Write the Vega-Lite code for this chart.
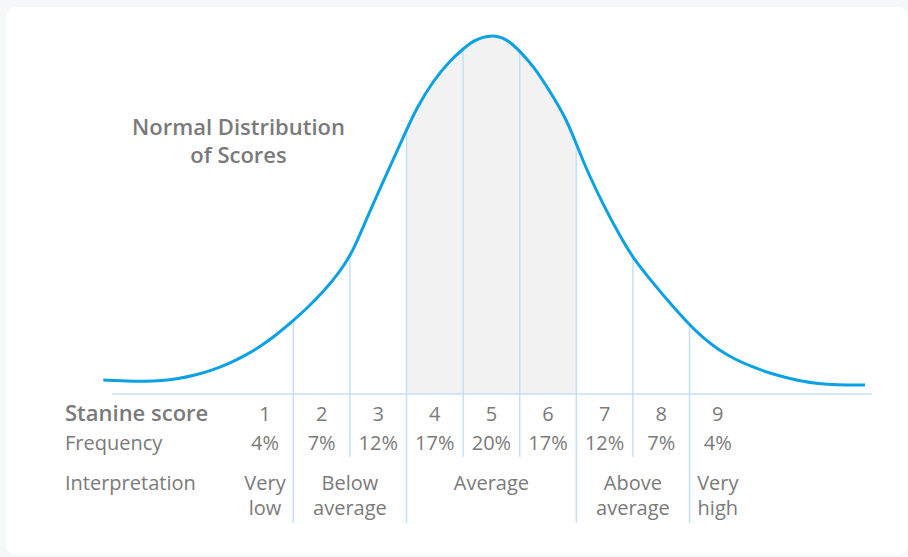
{
  "$schema": "https://vega.github.io/schema/vega-lite/v6.json",
  "width": 902,
  "height": 548,
  "autosize": "none",
  "padding": {"left": 6, "top": 7, "right": 0, "bottom": 2},
  "background": "#f4f8f9",
  "config": {
    "view": {"fill": "white", "stroke": null, "cornerRadius": 10},
    "text": {"font": "Open Sans", "color": "#7a7a7a", "fontSize": 20}
  },
  "datasets": {
    "curve": [
      {"s": -1.857, "v": 14}, {"s": -1.42, "v": 13}, {"s": -1.12, "v": 12.7}, {"s": -0.825, "v": 13.3},
      {"s": -0.537, "v": 15.3}, {"s": -0.237, "v": 18.7}, {"s": 0.058, "v": 23.7}, {"s": 0.352, "v": 30},
      {"s": 0.647, "v": 38.3}, {"s": 0.942, "v": 48.3}, {"s": 1.235, "v": 60.7}, {"s": 1.5, "v": 73.5},
      {"s": 1.737, "v": 85.5}, {"s": 2.03, "v": 102}, {"s": 2.325, "v": 122.3}, {"s": 2.5, "v": 138},
      {"s": 2.62, "v": 151.5}, {"s": 2.913, "v": 190.7}, {"s": 3.208, "v": 227.3}, {"s": 3.5, "v": 264},
      {"s": 3.68, "v": 286}, {"s": 3.973, "v": 313.5}, {"s": 4.269, "v": 333.5}, {"s": 4.5, "v": 345},
      {"s": 4.68, "v": 353.5}, {"s": 4.975, "v": 359.5}, {"s": 5.27, "v": 355.5}, {"s": 5.5, "v": 343},
      {"s": 5.74, "v": 328}, {"s": 6.035, "v": 302.7}, {"s": 6.33, "v": 274.3}, {"s": 6.5, "v": 250},
      {"s": 6.684, "v": 224}, {"s": 6.977, "v": 189}, {"s": 7.272, "v": 158}, {"s": 7.5, "v": 136},
      {"s": 7.86, "v": 110.7}, {"s": 8.155, "v": 90.7}, {"s": 8.5, "v": 69}, {"s": 8.716, "v": 57.3},
      {"s": 9.009, "v": 44}, {"s": 9.304, "v": 34.7}, {"s": 9.599, "v": 27.3}, {"s": 9.892, "v": 21.3},
      {"s": 10.187, "v": 16.7}, {"s": 10.482, "v": 12.7}, {"s": 10.776, "v": 10.3}, {"s": 11.071, "v": 9},
      {"s": 11.601, "v": 9}
    ],
    "bounds": [
      {"s": 1.5, "top": 74, "bot": -129}, {"s": 2.5, "top": 138, "bot": -63},
      {"s": 3.5, "top": 264, "bot": -129}, {"s": 4.5, "top": 343, "bot": -63},
      {"s": 5.5, "top": 342, "bot": -63}, {"s": 6.5, "top": 250, "bot": -129},
      {"s": 7.5, "top": 136, "bot": -63}, {"s": 8.5, "top": 69, "bot": -129}
    ],
    "stanines": [
      {"s": 1, "score": "1", "freq": "4%"}, {"s": 2, "score": "2", "freq": "7%"},
      {"s": 3, "score": "3", "freq": "12%"}, {"s": 4, "score": "4", "freq": "17%"},
      {"s": 5, "score": "5", "freq": "20%"}, {"s": 6, "score": "6", "freq": "17%"},
      {"s": 7, "score": "7", "freq": "12%"}, {"s": 8, "score": "8", "freq": "7%"},
      {"s": 9, "score": "9", "freq": "4%"}
    ],
    "interp": [
      {"s": 1, "v": -96, "t": "Very"}, {"s": 1, "v": -121, "t": "low"},
      {"s": 2.5, "v": -96, "t": "Below"}, {"s": 2.5, "v": -121, "t": "average"},
      {"s": 5, "v": -96, "t": "Average"},
      {"s": 7.5, "v": -96, "t": "Above"}, {"s": 7.5, "v": -121, "t": "average"},
      {"s": 9, "v": -96, "t": "Very"}, {"s": 9, "v": -121, "t": "high"}
    ]
  },
  "encoding": {
    "x": {"type": "quantitative", "scale": {"domain": [-3.576, 12.36], "nice": false, "zero": false}, "axis": null},
    "y": {"type": "quantitative", "scale": {"domain": [-161, 387], "nice": false, "zero": false}, "axis": null}
  },
  "layer": [
    {
      "data": {"name": "curve"},
      "transform": [{"filter": "datum.s >= 3.5 && datum.s <= 6.5"}],
      "mark": {"type": "area", "color": "#f2f2f2", "interpolate": "basis"},
      "encoding": {"x": {"field": "s"}, "y": {"field": "v"}, "y2": {"datum": 0}}
    },
    {
      "data": {"name": "bounds"},
      "mark": {"type": "rule", "color": "#c4e0f5", "strokeWidth": 1.5},
      "encoding": {"x": {"field": "s"}, "y": {"field": "bot"}, "y2": {"field": "top"}}
    },
    {
      "data": {"values": [{"s": -1.7, "s2": 11.72, "v": 0}]},
      "mark": {"type": "rule", "color": "#c4e0f5", "strokeWidth": 1.5},
      "encoding": {"x": {"field": "s"}, "x2": {"field": "s2"}, "y": {"field": "v"}}
    },
    {
      "data": {"name": "curve"},
      "mark": {"type": "line", "color": "#0ba1e3", "strokeWidth": 3, "interpolate": "basis"},
      "encoding": {"x": {"field": "s"}, "y": {"field": "v"}}
    },
    {
      "data": {"values": [{"s": 0.532, "v": 259, "t": "Normal Distribution"}, {"s": 0.532, "v": 231, "t": "of Scores"}]},
      "mark": {"type": "text", "fontSize": 22, "fontWeight": 600, "align": "center", "baseline": "alphabetic"},
      "encoding": {"x": {"field": "s"}, "y": {"field": "v"}, "text": {"field": "t"}}
    },
    {
      "data": {"values": [{"s": -2.534, "v": -27, "t": "Stanine score"}]},
      "mark": {"type": "text", "fontSize": 22, "fontWeight": 600, "align": "left", "baseline": "alphabetic"},
      "encoding": {"x": {"field": "s"}, "y": {"field": "v"}, "text": {"field": "t"}}
    },
    {
      "data": {"values": [{"s": -2.534, "v": -56, "t": "Frequency"}, {"s": -2.534, "v": -96, "t": "Interpretation"}]},
      "mark": {"type": "text", "align": "left", "baseline": "alphabetic"},
      "encoding": {"x": {"field": "s"}, "y": {"field": "v"}, "text": {"field": "t"}}
    },
    {
      "data": {"name": "stanines"},
      "mark": {"type": "text", "align": "center", "baseline": "alphabetic"},
      "encoding": {"x": {"field": "s"}, "y": {"datum": -27}, "text": {"field": "score"}}
    },
    {
      "data": {"name": "stanines"},
      "mark": {"type": "text", "align": "center", "baseline": "alphabetic"},
      "encoding": {"x": {"field": "s"}, "y": {"datum": -56}, "text": {"field": "freq"}}
    },
    {
      "data": {"name": "interp"},
      "mark": {"type": "text", "align": "center", "baseline": "alphabetic"},
      "encoding": {"x": {"field": "s"}, "y": {"field": "v"}, "text": {"field": "t"}}
    }
  ]
}
